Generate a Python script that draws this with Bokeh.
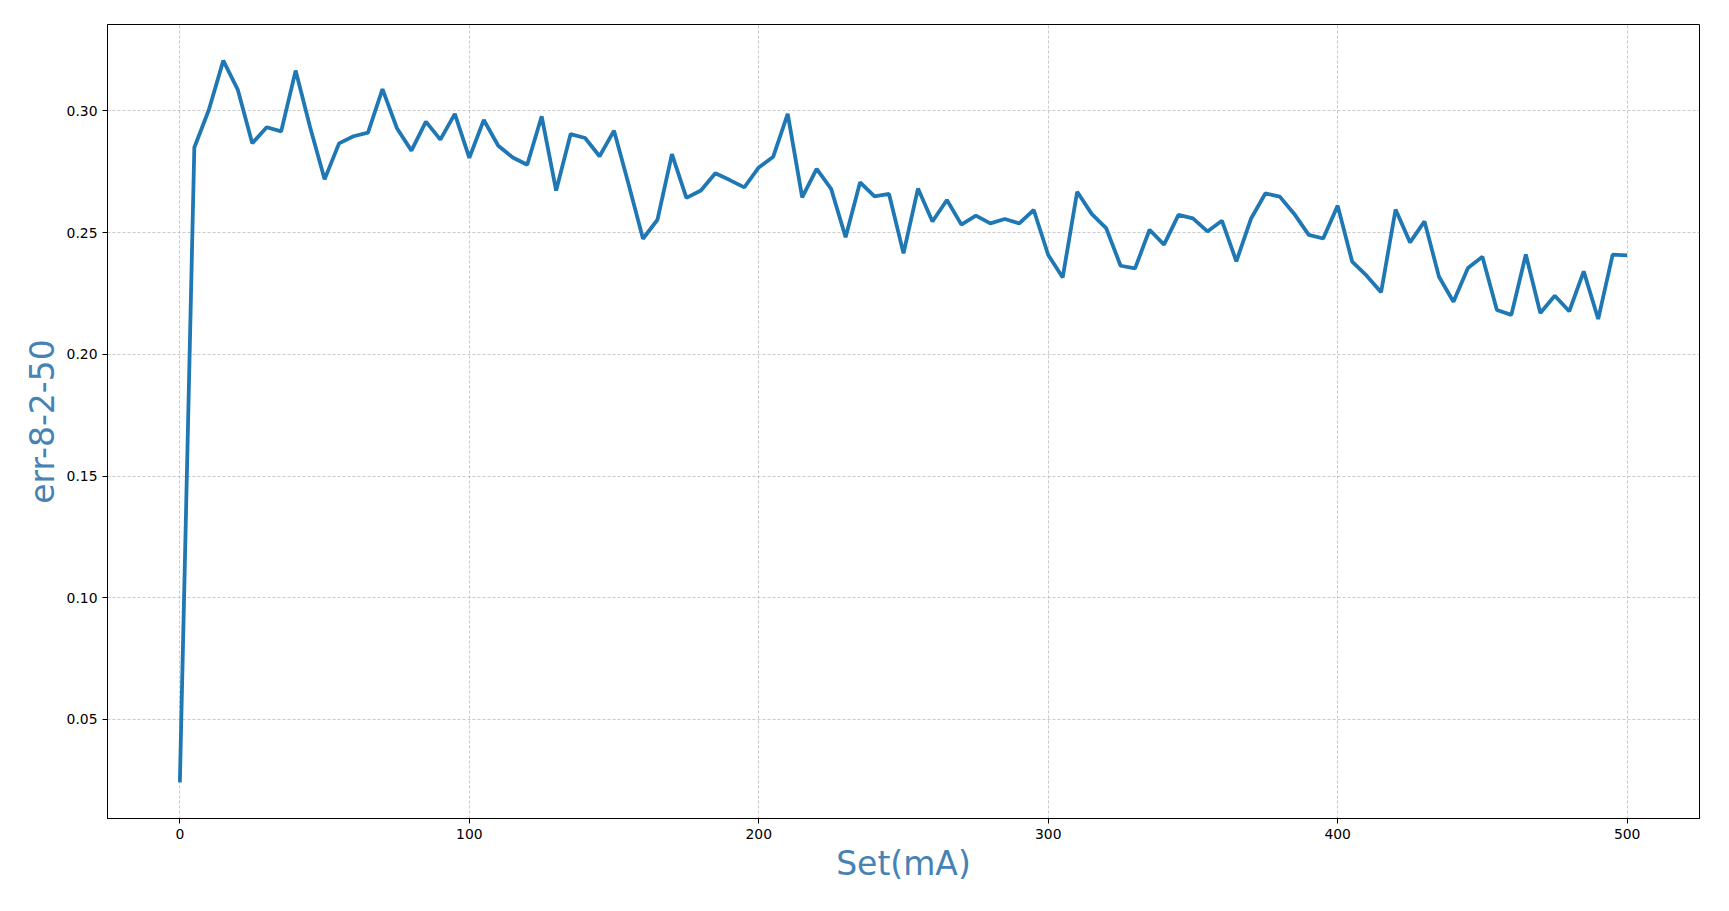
from bokeh.plotting import figure
from bokeh.models import Range1d, FixedTicker, PrintfTickFormatter
from bokeh.embed import file_html
from bokeh.resources import INLINE

set_ma = [0, 5, 10, 15, 20, 25, 30, 35, 40, 45, 50, 55, 60, 65, 70, 75, 80, 85, 90, 95,
          100, 105, 110, 115, 120, 125, 130, 135, 140, 145, 150, 155, 160, 165, 170, 175, 180, 185, 190, 195,
          200, 205, 210, 215, 220, 225, 230, 235, 240, 245, 250, 255, 260, 265, 270, 275, 280, 285, 290, 295,
          300, 305, 310, 315, 320, 325, 330, 335, 340, 345, 350, 355, 360, 365, 370, 375, 380, 385, 390, 395,
          400, 405, 410, 415, 420, 425, 430, 435, 440, 445, 450, 455, 460, 465, 470, 475, 480, 485, 490, 495,
          500]

err_values = [0.0241, 0.2850, 0.3004, 0.3207, 0.3088, 0.2867, 0.2933, 0.2916, 0.3166, 0.2933,
              0.2719, 0.2867, 0.2896, 0.2911, 0.3090, 0.2929, 0.2837, 0.2956, 0.2882, 0.2988,
              0.2807, 0.2963, 0.2857, 0.2809, 0.2779, 0.2978, 0.2673, 0.2905, 0.2889, 0.2814,
              0.2919, 0.2700, 0.2475, 0.2553, 0.2823, 0.2643, 0.2673, 0.2744, 0.2716, 0.2686,
              0.2768, 0.2812, 0.2988, 0.2645, 0.2762, 0.2680, 0.2481, 0.2707, 0.2649, 0.2659,
              0.2415, 0.2681, 0.2546, 0.2634, 0.2533, 0.2570, 0.2538, 0.2556, 0.2538, 0.2593,
              0.2408, 0.2316, 0.2668, 0.2577, 0.2519, 0.2364, 0.2353, 0.2512, 0.2451, 0.2573,
              0.2559, 0.2505, 0.2549, 0.2382, 0.2556, 0.2661, 0.2648, 0.2577, 0.2491, 0.2476,
              0.2611, 0.2381, 0.2323, 0.2255, 0.2595, 0.2460, 0.2546, 0.2319, 0.2216, 0.2355,
              0.2401, 0.2182, 0.2162, 0.2410, 0.2170, 0.2241, 0.2177, 0.2341, 0.2145, 0.2410,
              0.2407]

x_ticks = [0, 100, 200, 300, 400, 500]
y_ticks = [0.05, 0.10, 0.15, 0.20, 0.25, 0.30]

x_label = "Set(mA)"
y_label = "err-8-2-50"

assert len(set_ma) == len(err_values)

# matplotlib-like 5% margins
xmin, xmax = min(set_ma), max(set_ma)
ymin, ymax = min(err_values), max(err_values)
xm = (xmax - xmin) * 0.05
ym = (ymax - ymin) * 0.05

p = figure(width=1721, height=903, output_backend="svg", toolbar_location=None,
           x_range=Range1d(xmin - xm, xmax + xm), y_range=Range1d(ymin - ym, ymax + ym),
           min_border_left=107, min_border_right=22, min_border_top=24, min_border_bottom=85)

p.line(set_ma, err_values, line_color="#1f77b4", line_width=3.8)

p.background_fill_color = "white"
p.border_fill_color = "white"
p.outline_line_color = "black"
p.outline_line_width = 1
p.outline_line_alpha = 1

p.xaxis.ticker = FixedTicker(ticks=x_ticks)
p.yaxis.ticker = FixedTicker(ticks=y_ticks)
p.yaxis.formatter = PrintfTickFormatter(format="%.2f")

for ax in (p.xaxis, p.yaxis):
    ax.axis_line_color = "black"
    ax.major_tick_line_color = "black"
    ax.major_tick_in = 0
    ax.major_tick_out = 5
    ax.minor_tick_line_color = None
    ax.major_label_text_font = "DejaVu Sans"
    ax.major_label_text_font_size = "13.9px"
    ax.major_label_text_color = "black"
    ax.major_label_standoff = 5
    ax.axis_label_text_font = "DejaVu Sans"
    ax.axis_label_text_font_size = "33px"
    ax.axis_label_text_font_style = "normal"
    ax.axis_label_text_color = "steelblue"

p.xaxis.axis_label = x_label
p.yaxis.axis_label = y_label
p.xaxis.axis_label_standoff = 2
p.yaxis.axis_label_standoff = 2

p.xgrid.ticker = FixedTicker(ticks=x_ticks)
p.ygrid.ticker = FixedTicker(ticks=y_ticks)
for g in (p.xgrid, p.ygrid):
    g.grid_line_color = "#b0b0b0"
    g.grid_line_alpha = 0.85
    g.grid_line_width = 0.8
    g.grid_line_dash = "3 2"

open("out.html", "w").write(file_html(p, INLINE))
